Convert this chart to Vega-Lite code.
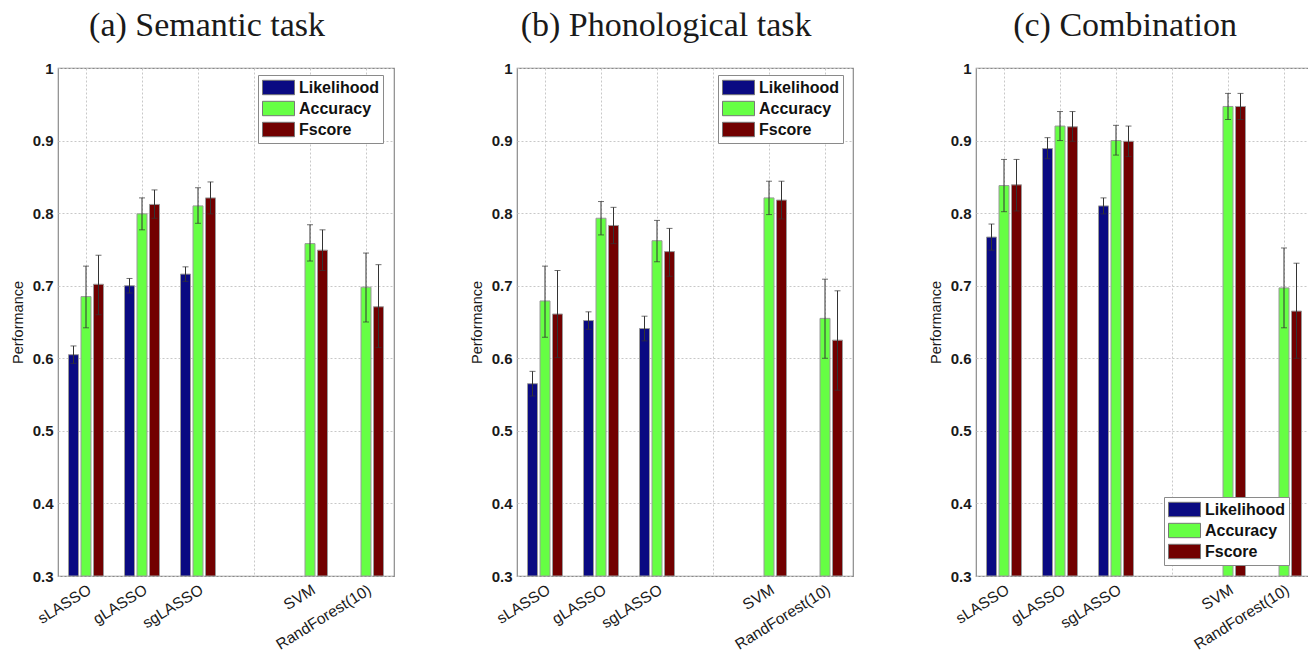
{
  "$schema": "https://vega.github.io/schema/vega-lite/v6.json",
  "background": "white",
  "padding": {"left": 9, "top": 8, "right": 0, "bottom": 0},
  "bounds": "flush",
  "spacing": 123,
  "resolve": {"legend": {"color": "independent"}},
  "config": {
    "view": {"stroke": "#8a8a8a", "strokeWidth": 1.2},
    "font": "Liberation Sans",
    "title": {"font": "Liberation Serif", "fontSize": 34, "fontWeight": "normal", "color": "#1a1a1a", "baseline": "alphabetic", "offset": 18, "anchor": "middle", "frame": "bounds", "dx": 5},
    "axis": {"gridColor": "#c8c8c8", "gridDash": [2, 2], "gridWidth": 1, "domain": false, "ticks": false, "labelColor": "#1a1a1a", "titleColor": "#1a1a1a"},
    "legend": {
      "orient": "none", "fillColor": "white", "strokeColor": "#8a8a8a", "padding": 4,
      "symbolType": "M-1,-0.9H3V0.9H-1Z", "symbolSize": 256, "symbolStrokeColor": "#777777", "symbolStrokeWidth": 1, "symbolOpacity": 1,
      "labelFont": "Liberation Sans", "labelFontSize": 16, "labelFontWeight": "bold", "labelColor": "#111111", "labelOffset": 20, "rowPadding": 2, "title": null
    }
  },
  "datasets": {
    "a": [
      {"method": "sLASSO", "metric": "Likelihood", "value": 0.605, "lo": 0.593, "hi": 0.617},
      {"method": "sLASSO", "metric": "Accuracy", "value": 0.685, "lo": 0.642, "hi": 0.727},
      {"method": "sLASSO", "metric": "Fscore", "value": 0.702, "lo": 0.660, "hi": 0.742},
      {"method": "gLASSO", "metric": "Likelihood", "value": 0.700, "lo": 0.690, "hi": 0.710},
      {"method": "gLASSO", "metric": "Accuracy", "value": 0.799, "lo": 0.777, "hi": 0.821},
      {"method": "gLASSO", "metric": "Fscore", "value": 0.812, "lo": 0.793, "hi": 0.832},
      {"method": "sgLASSO", "metric": "Likelihood", "value": 0.716, "lo": 0.706, "hi": 0.726},
      {"method": "sgLASSO", "metric": "Accuracy", "value": 0.810, "lo": 0.786, "hi": 0.835},
      {"method": "sgLASSO", "metric": "Fscore", "value": 0.821, "lo": 0.799, "hi": 0.843},
      {"method": "SVM", "metric": "Accuracy", "value": 0.758, "lo": 0.734, "hi": 0.784},
      {"method": "SVM", "metric": "Fscore", "value": 0.749, "lo": 0.721, "hi": 0.777},
      {"method": "RandForest(10)", "metric": "Accuracy", "value": 0.698, "lo": 0.650, "hi": 0.745},
      {"method": "RandForest(10)", "metric": "Fscore", "value": 0.671, "lo": 0.615, "hi": 0.729}
    ],
    "b": [
      {"method": "sLASSO", "metric": "Likelihood", "value": 0.565, "lo": 0.548, "hi": 0.582},
      {"method": "sLASSO", "metric": "Accuracy", "value": 0.679, "lo": 0.629, "hi": 0.727},
      {"method": "sLASSO", "metric": "Fscore", "value": 0.661, "lo": 0.601, "hi": 0.721},
      {"method": "gLASSO", "metric": "Likelihood", "value": 0.652, "lo": 0.640, "hi": 0.664},
      {"method": "gLASSO", "metric": "Accuracy", "value": 0.793, "lo": 0.770, "hi": 0.816},
      {"method": "gLASSO", "metric": "Fscore", "value": 0.783, "lo": 0.758, "hi": 0.808},
      {"method": "sgLASSO", "metric": "Likelihood", "value": 0.641, "lo": 0.624, "hi": 0.658},
      {"method": "sgLASSO", "metric": "Accuracy", "value": 0.762, "lo": 0.733, "hi": 0.790},
      {"method": "sgLASSO", "metric": "Fscore", "value": 0.747, "lo": 0.713, "hi": 0.779},
      {"method": "SVM", "metric": "Accuracy", "value": 0.821, "lo": 0.798, "hi": 0.844},
      {"method": "SVM", "metric": "Fscore", "value": 0.818, "lo": 0.792, "hi": 0.844},
      {"method": "RandForest(10)", "metric": "Accuracy", "value": 0.655, "lo": 0.600, "hi": 0.709},
      {"method": "RandForest(10)", "metric": "Fscore", "value": 0.625, "lo": 0.556, "hi": 0.693}
    ],
    "c": [
      {"method": "sLASSO", "metric": "Likelihood", "value": 0.767, "lo": 0.749, "hi": 0.785},
      {"method": "sLASSO", "metric": "Accuracy", "value": 0.838, "lo": 0.802, "hi": 0.874},
      {"method": "sLASSO", "metric": "Fscore", "value": 0.839, "lo": 0.803, "hi": 0.874},
      {"method": "gLASSO", "metric": "Likelihood", "value": 0.889, "lo": 0.875, "hi": 0.904},
      {"method": "gLASSO", "metric": "Accuracy", "value": 0.920, "lo": 0.900, "hi": 0.940},
      {"method": "gLASSO", "metric": "Fscore", "value": 0.919, "lo": 0.899, "hi": 0.940},
      {"method": "sgLASSO", "metric": "Likelihood", "value": 0.810, "lo": 0.799, "hi": 0.821},
      {"method": "sgLASSO", "metric": "Accuracy", "value": 0.900, "lo": 0.880, "hi": 0.921},
      {"method": "sgLASSO", "metric": "Fscore", "value": 0.899, "lo": 0.878, "hi": 0.920},
      {"method": "SVM", "metric": "Accuracy", "value": 0.947, "lo": 0.929, "hi": 0.965},
      {"method": "SVM", "metric": "Fscore", "value": 0.947, "lo": 0.929, "hi": 0.965},
      {"method": "RandForest(10)", "metric": "Accuracy", "value": 0.697, "lo": 0.642, "hi": 0.752},
      {"method": "RandForest(10)", "metric": "Fscore", "value": 0.665, "lo": 0.600, "hi": 0.731}
    ]
  },
  "hconcat": [
    {
      "title": {"text": "(a) Semantic task"},
      "width": 336, "height": 508,
      "data": {"name": "a"},
      "encoding": {
        "x": {"field": "method", "type": "nominal", "sort": null,
          "scale": {"domain": ["sLASSO", "gLASSO", "sgLASSO", " ", "SVM", "RandForest(10)"], "paddingInner": 0, "paddingOuter": 0},
          "axis": {"title": null, "labelAngle": -32, "labelAlign": "right", "labelBaseline": "top", "labelPadding": 6, "labelFontSize": 15.5, "labelFont": "Liberation Sans", "grid": true, "bandPosition": 0.5}},
        "xOffset": {"field": "metric", "type": "nominal", "scale": {"domain": ["Likelihood", "Accuracy", "Fscore"], "paddingInner": 0.2, "paddingOuter": 0.84}}
      },
      "layer": [
        {"mark": {"type": "bar", "stroke": "#9a9a9a", "strokeWidth": 1},
          "encoding": {
            "y": {"field": "value", "type": "quantitative", "scale": {"domain": [0.3, 1], "zero": false, "nice": false},
              "axis": {"title": "Performance", "titleFont": "Liberation Sans", "titleFontSize": 14.5, "titleFontWeight": "normal", "titlePadding": 7, "labelFontSize": 15, "labelFontWeight": "bold", "labelPadding": 5, "values": [0.3, 0.4, 0.5, 0.6, 0.7, 0.8, 0.9, 1], "labelExpr": "datum.value == 1 ? '1' : format(datum.value, '.1f')", "grid": true}},
            "y2": {"datum": 0.3},
            "color": {"field": "metric", "type": "nominal", "scale": {"domain": ["Likelihood", "Accuracy", "Fscore"], "range": ["#0a0a82", "#66ff44", "#720000"]},
              "legend": {"legendX": 200, "legendY": 7}}
          }},
        {"mark": {"type": "rule", "color": "#333333", "strokeWidth": 1},
          "encoding": {"y": {"field": "lo", "type": "quantitative"}, "y2": {"field": "hi"}}},
        {"mark": {"type": "tick", "color": "#333333", "thickness": 1, "size": 6},
          "encoding": {"y": {"field": "lo", "type": "quantitative"}}},
        {"mark": {"type": "tick", "color": "#333333", "thickness": 1, "size": 6},
          "encoding": {"y": {"field": "hi", "type": "quantitative"}}}
      ]
    },
    {
      "title": {"text": "(b) Phonological task"},
      "width": 336, "height": 508,
      "data": {"name": "b"},
      "encoding": {
        "x": {"field": "method", "type": "nominal", "sort": null,
          "scale": {"domain": ["sLASSO", "gLASSO", "sgLASSO", " ", "SVM", "RandForest(10)"], "paddingInner": 0, "paddingOuter": 0},
          "axis": {"title": null, "labelAngle": -32, "labelAlign": "right", "labelBaseline": "top", "labelPadding": 6, "labelFontSize": 15.5, "labelFont": "Liberation Sans", "grid": true, "bandPosition": 0.5}},
        "xOffset": {"field": "metric", "type": "nominal", "scale": {"domain": ["Likelihood", "Accuracy", "Fscore"], "paddingInner": 0.2, "paddingOuter": 0.84}}
      },
      "layer": [
        {"mark": {"type": "bar", "stroke": "#9a9a9a", "strokeWidth": 1},
          "encoding": {
            "y": {"field": "value", "type": "quantitative", "scale": {"domain": [0.3, 1], "zero": false, "nice": false},
              "axis": {"title": "Performance", "titleFont": "Liberation Sans", "titleFontSize": 14.5, "titleFontWeight": "normal", "titlePadding": 7, "labelFontSize": 15, "labelFontWeight": "bold", "labelPadding": 5, "values": [0.3, 0.4, 0.5, 0.6, 0.7, 0.8, 0.9, 1], "labelExpr": "datum.value == 1 ? '1' : format(datum.value, '.1f')", "grid": true}},
            "y2": {"datum": 0.3},
            "color": {"field": "metric", "type": "nominal", "scale": {"domain": ["Likelihood", "Accuracy", "Fscore"], "range": ["#0a0a82", "#66ff44", "#720000"]},
              "legend": {"legendX": 201, "legendY": 7}}
          }},
        {"mark": {"type": "rule", "color": "#333333", "strokeWidth": 1},
          "encoding": {"y": {"field": "lo", "type": "quantitative"}, "y2": {"field": "hi"}}},
        {"mark": {"type": "tick", "color": "#333333", "thickness": 1, "size": 6},
          "encoding": {"y": {"field": "lo", "type": "quantitative"}}},
        {"mark": {"type": "tick", "color": "#333333", "thickness": 1, "size": 6},
          "encoding": {"y": {"field": "hi", "type": "quantitative"}}}
      ]
    },
    {
      "title": {"text": "(c) Combination"},
      "width": 336, "height": 508,
      "data": {"name": "c"},
      "encoding": {
        "x": {"field": "method", "type": "nominal", "sort": null,
          "scale": {"domain": ["sLASSO", "gLASSO", "sgLASSO", " ", "SVM", "RandForest(10)"], "paddingInner": 0, "paddingOuter": 0},
          "axis": {"title": null, "labelAngle": -32, "labelAlign": "right", "labelBaseline": "top", "labelPadding": 6, "labelFontSize": 15.5, "labelFont": "Liberation Sans", "grid": true, "bandPosition": 0.5}},
        "xOffset": {"field": "metric", "type": "nominal", "scale": {"domain": ["Likelihood", "Accuracy", "Fscore"], "paddingInner": 0.2, "paddingOuter": 0.84}}
      },
      "layer": [
        {"mark": {"type": "bar", "stroke": "#9a9a9a", "strokeWidth": 1},
          "encoding": {
            "y": {"field": "value", "type": "quantitative", "scale": {"domain": [0.3, 1], "zero": false, "nice": false},
              "axis": {"title": "Performance", "titleFont": "Liberation Sans", "titleFontSize": 14.5, "titleFontWeight": "normal", "titlePadding": 7, "labelFontSize": 15, "labelFontWeight": "bold", "labelPadding": 5, "values": [0.3, 0.4, 0.5, 0.6, 0.7, 0.8, 0.9, 1], "labelExpr": "datum.value == 1 ? '1' : format(datum.value, '.1f')", "grid": true}},
            "y2": {"datum": 0.3},
            "color": {"field": "metric", "type": "nominal", "scale": {"domain": ["Likelihood", "Accuracy", "Fscore"], "range": ["#0a0a82", "#66ff44", "#720000"]},
              "legend": {"legendX": 188, "legendY": 429}}
          }},
        {"mark": {"type": "rule", "color": "#333333", "strokeWidth": 1},
          "encoding": {"y": {"field": "lo", "type": "quantitative"}, "y2": {"field": "hi"}}},
        {"mark": {"type": "tick", "color": "#333333", "thickness": 1, "size": 6},
          "encoding": {"y": {"field": "lo", "type": "quantitative"}}},
        {"mark": {"type": "tick", "color": "#333333", "thickness": 1, "size": 6},
          "encoding": {"y": {"field": "hi", "type": "quantitative"}}}
      ]
    }
  ]
}
